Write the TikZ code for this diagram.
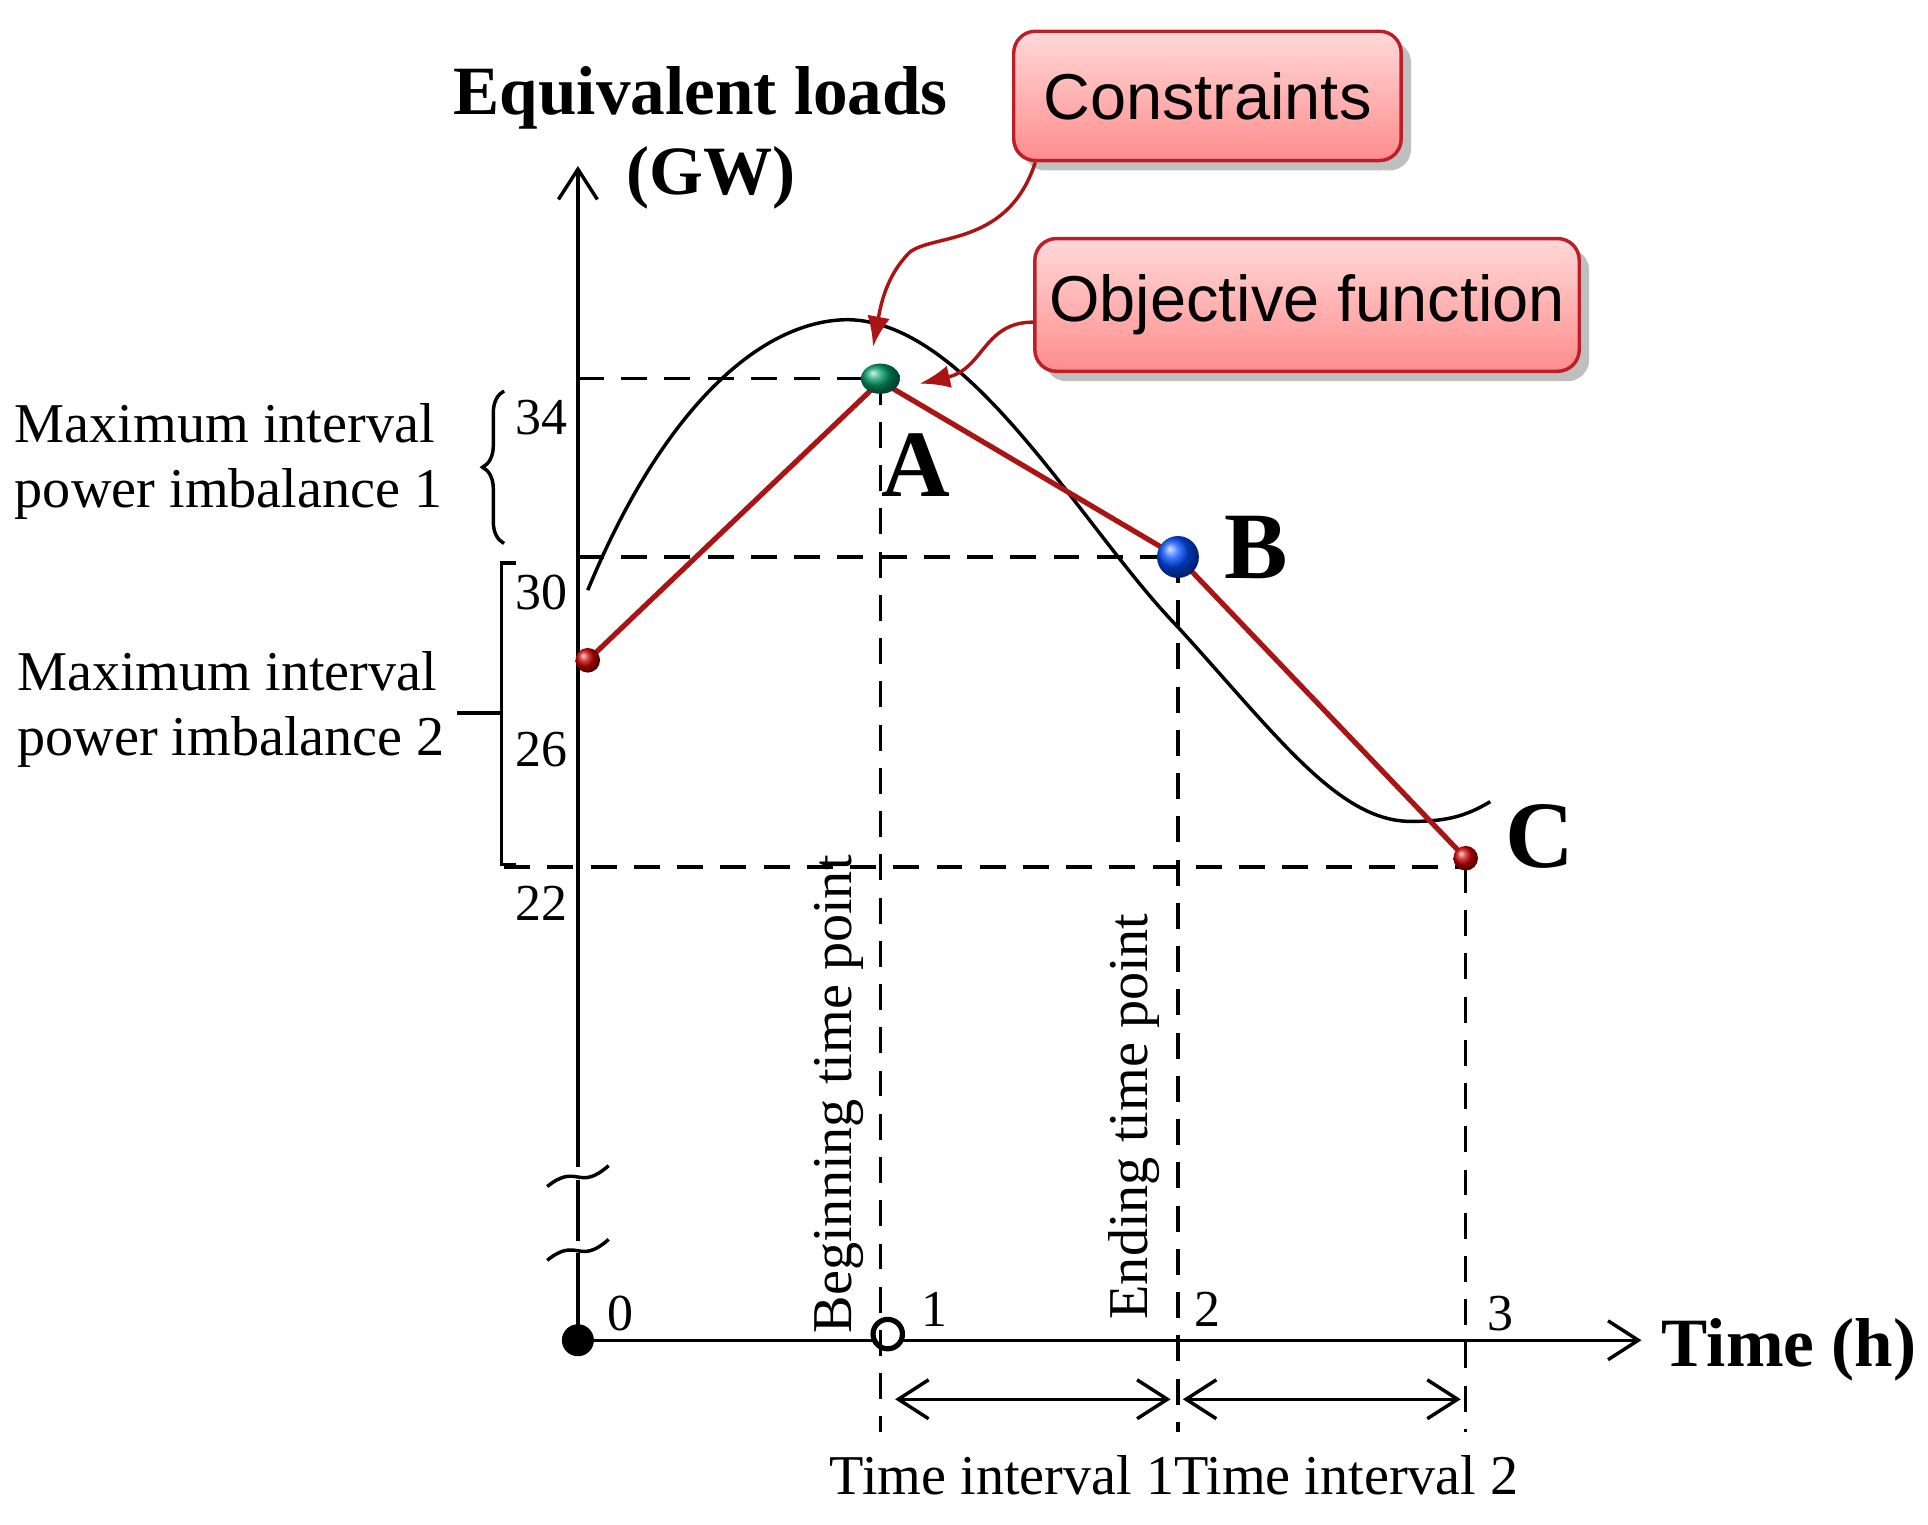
\documentclass[tikz,border=0pt]{standalone}
\usepackage{fontspec}
\setmainfont{Liberation Serif}
\newfontfamily\sans{Liberation Sans}
\usetikzlibrary{arrows.meta,decorations.pathreplacing,shadows,shapes.geometric}
\definecolor{dred}{RGB}{170,20,20}
\definecolor{boxbd}{RGB}{190,30,40}
\begin{document}
\begin{tikzpicture}[x=0.01cm,y=-0.01cm,
  dsh/.style={thick,dash pattern=on 6pt off 4pt},
  lab/.style={font=\fontsize{13}{15}\selectfont},
  tick/.style={font=\fontsize{12}{14}\selectfont},
  big/.style={font=\fontsize{22}{24}\selectfont\bfseries},
  callout/.style={draw=boxbd,thick,rounded corners=5pt,top color=red!15,bottom color=red!45,drop shadow,font=\sans\fontsize{15}{17}\selectfont},
  conn/.style={dred,thick,-{Latex[length=7pt]}}]
\useasboundingbox (0,0) rectangle (1568,1240);
% axes
\coordinate (O) at (470,1090);
\coordinate (Ytop) at (470,135);
\coordinate (Xend) at (1335,1090);
\draw[thick,-{Straight Barb[length=7pt,width=9pt]}] (O) -- (470,1030) (470,1000) -- (470,970) (470,940) -- (Ytop);
\draw[thick,dashed] (470,1030) -- (470,1000) (470,970)--(470,940);
\draw[thick] (445,1025) .. controls (470,1005) and (470,1030) .. (495,1008);
\draw[thick] (445,965) .. controls (470,945) and (470,970) .. (495,948);
\draw[thick,-{Straight Barb[length=7pt,width=9pt]}] (O) -- (Xend);
\node[circle,fill=black,inner sep=0,minimum size=7.4pt] (o0) at (O) {};
\node[circle,draw,very thick,fill=white,inner sep=0,minimum size=6.8pt] (o1) at (722,1085) {};
\node[tick] (t0) at (505,1068) {0};
\node[tick] (t1) at (760,1065) {1};
\node[tick] (t2) at (982,1065) {2};
\node[tick] (t3) at (1220,1068) {3};
\node[font=\fontsize{16}{18}\selectfont\bfseries] (tx) at (1455,1098) {Time (h)};
\node[font=\fontsize{16}{18}\selectfont\bfseries] (ty1) at (570,80) {Equivalent loads};
\node[font=\fontsize{16}{18}\selectfont\bfseries] (ty2) at (578,145) {(GW)};
% dashed
\draw[dsh] (470,308) -- (715,308);
\draw[dsh] (470,453) -- (958,453);
\draw[dsh] (410,705) -- (1192,705);
\draw[dsh] (716,308) -- (716,1165);
\draw[dsh] (958,453) -- (958,1165);
\draw[dsh] (1192,705) -- (1192,1165);
\node[tick] (l34) at (440,340) {34};
\node[tick] (l30) at (440,482) {30};
\node[tick] (l26) at (440,610) {26};
\node[tick] (l22) at (440,735) {22};
% curve
\draw[thick] (478,480) .. controls (540,330) and (620,260) .. (690,260)
  .. controls (790,262) and (880,430) .. (958,510)
  .. controls (1040,600) and (1090,670) .. (1150,668)
  .. controls (1180,668) and (1195,662) .. (1212,652);
% red polyline
\coordinate (P0) at (478,537);
\coordinate (PA) at (716,310);
\coordinate (PB) at (958,453);
\coordinate (PC) at (1192,698);
\draw[dred,very thick] (P0) -- (PA) -- (PB) -- (PC);
\node[circle,ball color=red!80!black,inner sep=0,minimum size=5.7pt] (d0) at (P0) {};
\node[circle,ball color=red!80!black,inner sep=0,minimum size=5.7pt] (dC) at (PC) {};
\node[ellipse,ball color=teal!80!green,inner sep=0,minimum width=9pt,minimum height=7pt] (dA) at (716,308) {};
\node[circle,ball color=blue!70!cyan,inner sep=0,minimum size=9.7pt] (dB) at (PB) {};
\node[big] (A) at (745,378) {A};
\node[big] (B) at (1022,445) {B};
\node[big] (C) at (1252,680) {C};
% braces
\draw[thick,decorate,decoration={brace,amplitude=5pt}] (410,442) -- (410,318);
\draw[thick] (420,458) -- (408,458) -- (408,703) -- (420,703);
\draw[thick] (408,580) -- (372,580);
\node[lab,align=left] (m1) at (186,375) {Maximum interval\\power imbalance 1};
\node[lab,align=left] (m2) at (188,577) {Maximum interval\\power imbalance 2};
% callouts
\node[callout,minimum width=89.6pt,minimum height=29.9pt] (cons) at (982,78) {Constraints};
\node[callout,minimum width=122pt,minimum height=30.7pt] (obj) at (1063,248) {Objective function};
\draw[conn] (842,132) .. controls (820,200) and (760,190) .. (740,205) .. controls (720,225) and (716,250) .. (710,282);
\draw[conn] (obj.west |- 848,262) .. controls (800,262) and (800,300) .. (748,312);
% intervals
\draw[thick,{Straight Barb[length=7pt,width=9pt]}-{Straight Barb[length=7pt,width=9pt]}] (728,1138) -- (952,1138);
\draw[thick,{Straight Barb[length=7pt,width=9pt]}-{Straight Barb[length=7pt,width=9pt]}] (962,1138) -- (1188,1138);
\node[lab] (ti1) at (815,1200) {Time interval 1};
\node[lab] (ti2) at (1095,1200) {Time interval 2};
\node[lab,rotate=90] (bt) at (682,890) {Beginning time point};
\node[lab,rotate=90] (et) at (922,908) {Ending time point};
\end{tikzpicture}
\end{document}
